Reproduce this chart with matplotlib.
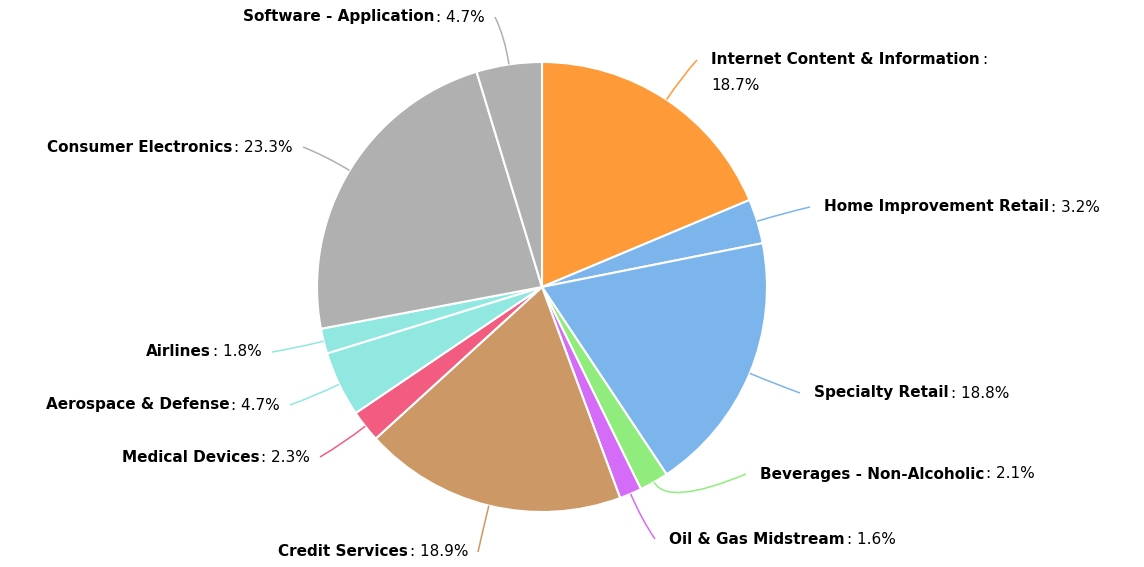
import numpy as np
import matplotlib
matplotlib.use("Agg")
import matplotlib.pyplot as plt
from matplotlib.path import Path
from matplotlib.patches import PathPatch

W, H = 1144, 567

sectors = ["Internet Content & Information", "Home Improvement Retail", "Specialty Retail",
           "Beverages - Non-Alcoholic", "Oil & Gas Midstream", "Credit Services",
           "Medical Devices", "Aerospace & Defense", "Airlines",
           "Consumer Electronics", "Software - Application"]
shares = [18.7, 3.2, 18.8, 2.1, 1.6, 18.9, 2.3, 4.7, 1.8, 23.3, 4.7]
colors = ["#ff9a38", "#7cb5ec", "#7cb5ec", "#90ed7d", "#d56cf7", "#cc9966",
          "#f15c80", "#91e8e1", "#91e8e1", "#b0b0b0", "#b0b0b0"]

# where each connector ends (pixels from top-left)
label_pos = [(697, 60), (810, 207), (800, 393), (746, 474), (655, 539), (478, 552),
             (320, 457), (290, 405), (272, 352), (303, 147), (495, 17)]

cx, cy, r = 542, 287, 225

fig = plt.figure(figsize=(W / 100, H / 100), dpi=100)
ax = fig.add_axes([0, 0, 1, 1])

ax.pie(shares, colors=colors, center=(cx, H - cy), radius=r, startangle=90,
       counterclock=False, wedgeprops=dict(edgecolor="white", linewidth=1.5),
       frame=True)
ax.set_xlim(0, W)
ax.set_ylim(0, H)
ax.axis("off")

fig.canvas.draw()
renderer = fig.canvas.get_renderer()

fs = 11
total = sum(shares)
cum = 0
for name, val, col, (lx, ly) in zip(sectors, shares, colors, label_pos):
    mid = (cum + val / 2) / total * 2 * np.pi
    cum += val
    sx, sy = np.sin(mid), -np.cos(mid)
    p0 = (cx + r * sx, H - (cy + r * sy))
    p1 = (cx + (r + 28) * sx, H - (cy + (r + 28) * sy))
    p2 = (lx, H - ly)
    path = Path([p0, p1, p2], [Path.MOVETO, Path.CURVE3, Path.CURVE3])
    ax.add_patch(PathPatch(path, fill=False, edgecolor=col, lw=1.1))

    ty = H - ly
    pct = f"{val:.1f}%"
    if lx > cx:
        tx = lx + 14
        t1 = ax.text(tx, ty, name, fontsize=fs, fontweight="bold", color="black",
                     ha="left", va="center")
        bb = t1.get_window_extent(renderer)
        if name.startswith("Internet"):
            # this one wraps onto a second line
            ax.text(bb.x1 + 2, ty, ":", fontsize=fs, color="black", ha="left", va="center")
            ax.text(tx, ty - 25, pct, fontsize=fs, color="black", ha="left", va="center")
        else:
            ax.text(bb.x1 + 2, ty, ": " + pct, fontsize=fs, color="black",
                    ha="left", va="center")
    else:
        tx = lx - 10
        t2 = ax.text(tx, ty, ": " + pct, fontsize=fs, color="black", ha="right", va="center")
        bb = t2.get_window_extent(renderer)
        ax.text(bb.x0 - 2, ty, name, fontsize=fs, fontweight="bold", color="black",
                ha="right", va="center")

fig.savefig("out.png", dpi=100, facecolor="white")
